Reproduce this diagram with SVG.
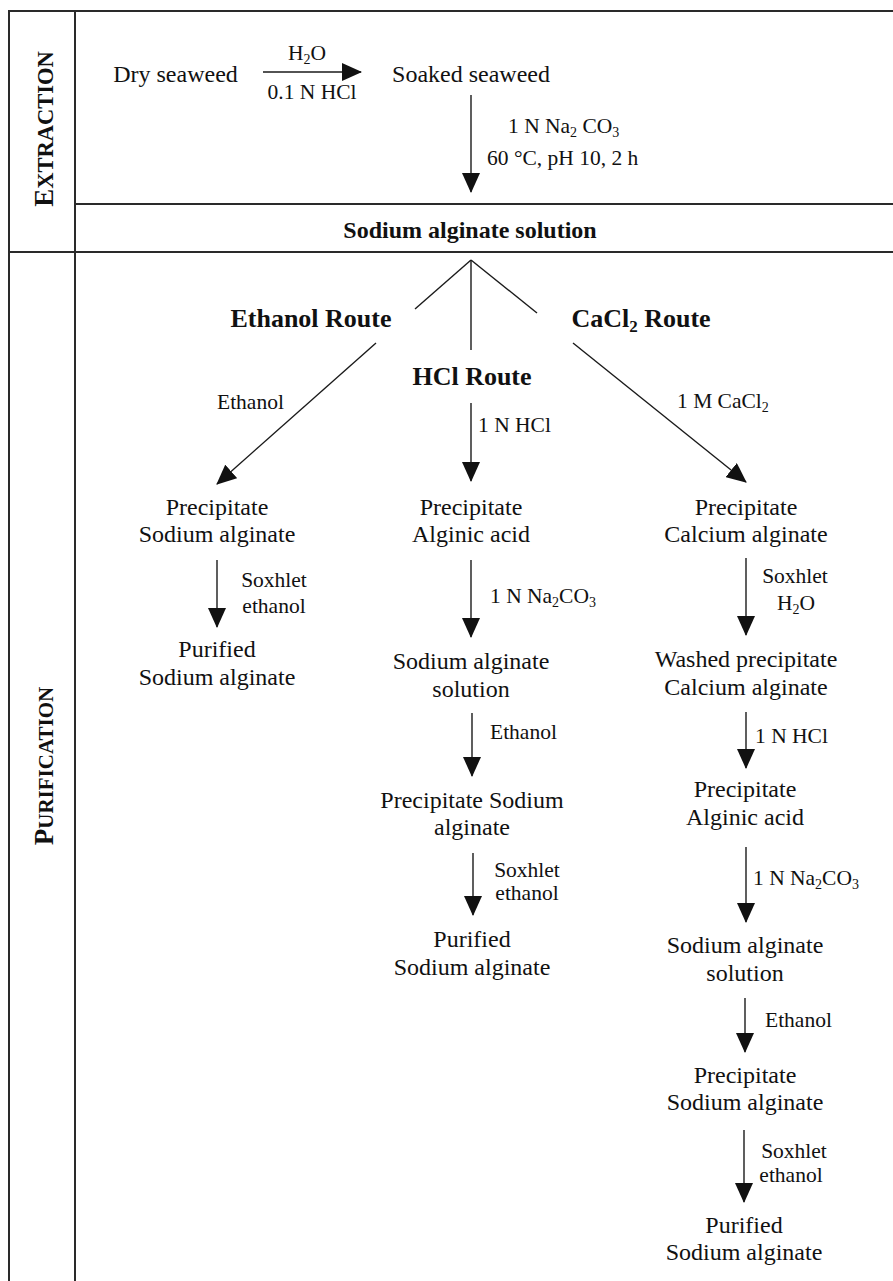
<svg xmlns="http://www.w3.org/2000/svg" width="893" height="1281" viewBox="0 0 893 1281">
<style>
  text { font-family: "Liberation Serif", "Times New Roman", serif; fill: #111; }
  .n { font-size: 24px; text-anchor: middle; }
  .h { font-size: 24px; font-weight: bold; text-anchor: middle; }
  .r { font-size: 26px; font-weight: bold; text-anchor: middle; }
  .l { font-size: 21.5px; text-anchor: start; }
  .lc { font-size: 21.5px; text-anchor: middle; }
  .sec { font-weight: bold; text-anchor: middle; }
  .frame line { stroke: #2a2a2a; stroke-width: 2; }
  .conn line { stroke: #1a1a1a; stroke-width: 1.4; fill: none; }
</style>
<defs>
  <marker id="ah" markerUnits="userSpaceOnUse" markerWidth="20" markerHeight="18" refX="19" refY="9" orient="auto">
    <path d="M0,0 L20,9 L0,18 z" fill="#111"/>
  </marker>
</defs>
<rect width="893" height="1281" fill="#fff"/>
<g id="frame" class="frame">
  <line x1="8" y1="11" x2="893" y2="11"/>
  <line x1="9" y1="10" x2="9" y2="1281"/>
  <line x1="75" y1="11" x2="75" y2="1281"/>
  <line x1="75" y1="204" x2="893" y2="204"/>
  <line x1="9" y1="252" x2="893" y2="252"/>
</g>
<g id="section-extraction">
  <text class="sec" transform="translate(53,129) rotate(-90)"><tspan font-size="27">E</tspan><tspan font-size="22.5">XTRACTION</tspan></text>
</g>
<g id="section-purification">
  <text class="sec" transform="translate(53,766) rotate(-90)"><tspan font-size="27">P</tspan><tspan font-size="21">URIFICATION</tspan></text>
</g>
<g id="node-dry"><text class="n" x="175.5" y="82">Dry seaweed</text></g>
<g id="node-soaked"><text class="n" x="471" y="82">Soaked seaweed</text></g>
<g id="node-solution"><text class="h" x="470" y="238">Sodium alginate solution</text></g>
<g id="route-ethanol"><text class="r" x="311" y="327">Ethanol Route</text></g>
<g id="route-hcl"><text class="r" x="472" y="385">HCl Route</text></g>
<g id="route-cacl2"><text class="r" x="641" y="327">CaCl<tspan font-size="17" dy="5">2</tspan><tspan dy="-5"> Route</tspan></text></g>

<g id="node-e1"><text class="n" x="217" y="515">Precipitate</text><text class="n" x="217" y="542">Sodium alginate</text></g>
<g id="node-e2"><text class="n" x="217" y="657">Purified</text><text class="n" x="217" y="685">Sodium alginate</text></g>

<g id="node-h1"><text class="n" x="471" y="515">Precipitate</text><text class="n" x="471" y="542">Alginic acid</text></g>
<g id="node-h2"><text class="n" x="471" y="669">Sodium alginate</text><text class="n" x="471" y="697">solution</text></g>
<g id="node-h3"><text class="n" x="472" y="808">Precipitate Sodium</text><text class="n" x="472" y="835">alginate</text></g>
<g id="node-h4"><text class="n" x="472" y="947">Purified</text><text class="n" x="472" y="975">Sodium alginate</text></g>

<g id="node-c1"><text class="n" x="746" y="515">Precipitate</text><text class="n" x="746" y="542">Calcium alginate</text></g>
<g id="node-c2"><text class="n" x="746" y="667">Washed precipitate</text><text class="n" x="746" y="695">Calcium alginate</text></g>
<g id="node-c3"><text class="n" x="745" y="797">Precipitate</text><text class="n" x="745" y="825">Alginic acid</text></g>
<g id="node-c4"><text class="n" x="745" y="953">Sodium alginate</text><text class="n" x="745" y="981">solution</text></g>
<g id="node-c5"><text class="n" x="745" y="1083">Precipitate</text><text class="n" x="745" y="1110">Sodium alginate</text></g>
<g id="node-c6"><text class="n" x="744" y="1233">Purified</text><text class="n" x="744" y="1260">Sodium alginate</text></g>

<g id="connectors" class="conn">
  <line x1="263" y1="72" x2="361" y2="72" marker-end="url(#ah)"/>
  <text class="lc" x="307" y="60">H<tspan font-size="14" dy="4">2</tspan><tspan dy="-4">O</tspan></text>
  <text class="lc" x="312" y="99">0.1 N HCl</text>

  <line x1="471" y1="95" x2="471" y2="192" marker-end="url(#ah)"/>
  <text class="l" x="508" y="133">1 N Na<tspan font-size="14" dy="4">2</tspan><tspan dy="-4"> CO</tspan><tspan font-size="14" dy="4">3</tspan></text>
  <text class="l" x="487" y="165">60 °C, pH 10, 2 h</text>

  <line x1="471" y1="260" x2="415" y2="309"/>
  <line x1="471" y1="260" x2="471" y2="350"/>
  <line x1="471" y1="260" x2="537" y2="313"/>

  <line x1="376" y1="343" x2="217" y2="484" marker-end="url(#ah)"/>
  <text class="l" x="217" y="409">Ethanol</text>
  <line x1="471" y1="403" x2="471" y2="481" marker-end="url(#ah)"/>
  <text class="l" x="478" y="432">1 N HCl</text>
  <line x1="573" y1="343" x2="746" y2="482" marker-end="url(#ah)"/>
  <text class="l" x="677" y="408">1 M CaCl<tspan font-size="14" dy="4">2</tspan></text>

  <line x1="217" y1="560" x2="217" y2="627" marker-end="url(#ah)"/>
  <text class="lc" x="274" y="587">Soxhlet</text>
  <text class="lc" x="274" y="613">ethanol</text>

  <line x1="471" y1="560" x2="471" y2="637" marker-end="url(#ah)"/>
  <text class="l" x="490" y="603">1 N Na<tspan font-size="14" dy="4">2</tspan><tspan dy="-4">CO</tspan><tspan font-size="14" dy="4">3</tspan></text>
  <line x1="472" y1="713" x2="472" y2="776" marker-end="url(#ah)"/>
  <text class="l" x="490" y="739">Ethanol</text>
  <line x1="473" y1="853" x2="473" y2="915" marker-end="url(#ah)"/>
  <text class="lc" x="527" y="877">Soxhlet</text>
  <text class="lc" x="527" y="900">ethanol</text>

  <line x1="746" y1="558" x2="746" y2="635" marker-end="url(#ah)"/>
  <text class="lc" x="795" y="583">Soxhlet</text>
  <text class="lc" x="796" y="610">H<tspan font-size="14" dy="4">2</tspan><tspan dy="-4">O</tspan></text>
  <line x1="746" y1="712" x2="746" y2="768" marker-end="url(#ah)"/>
  <text class="l" x="755" y="743">1 N HCl</text>
  <line x1="746" y1="847" x2="746" y2="922" marker-end="url(#ah)"/>
  <text class="l" x="753" y="885">1 N Na<tspan font-size="14" dy="4">2</tspan><tspan dy="-4">CO</tspan><tspan font-size="14" dy="4">3</tspan></text>
  <line x1="745" y1="998" x2="745" y2="1052" marker-end="url(#ah)"/>
  <text class="l" x="765" y="1027">Ethanol</text>
  <line x1="744" y1="1130" x2="744" y2="1202" marker-end="url(#ah)"/>
  <text class="lc" x="794" y="1158">Soxhlet</text>
  <text class="lc" x="791" y="1182">ethanol</text>
</g>
</svg>
